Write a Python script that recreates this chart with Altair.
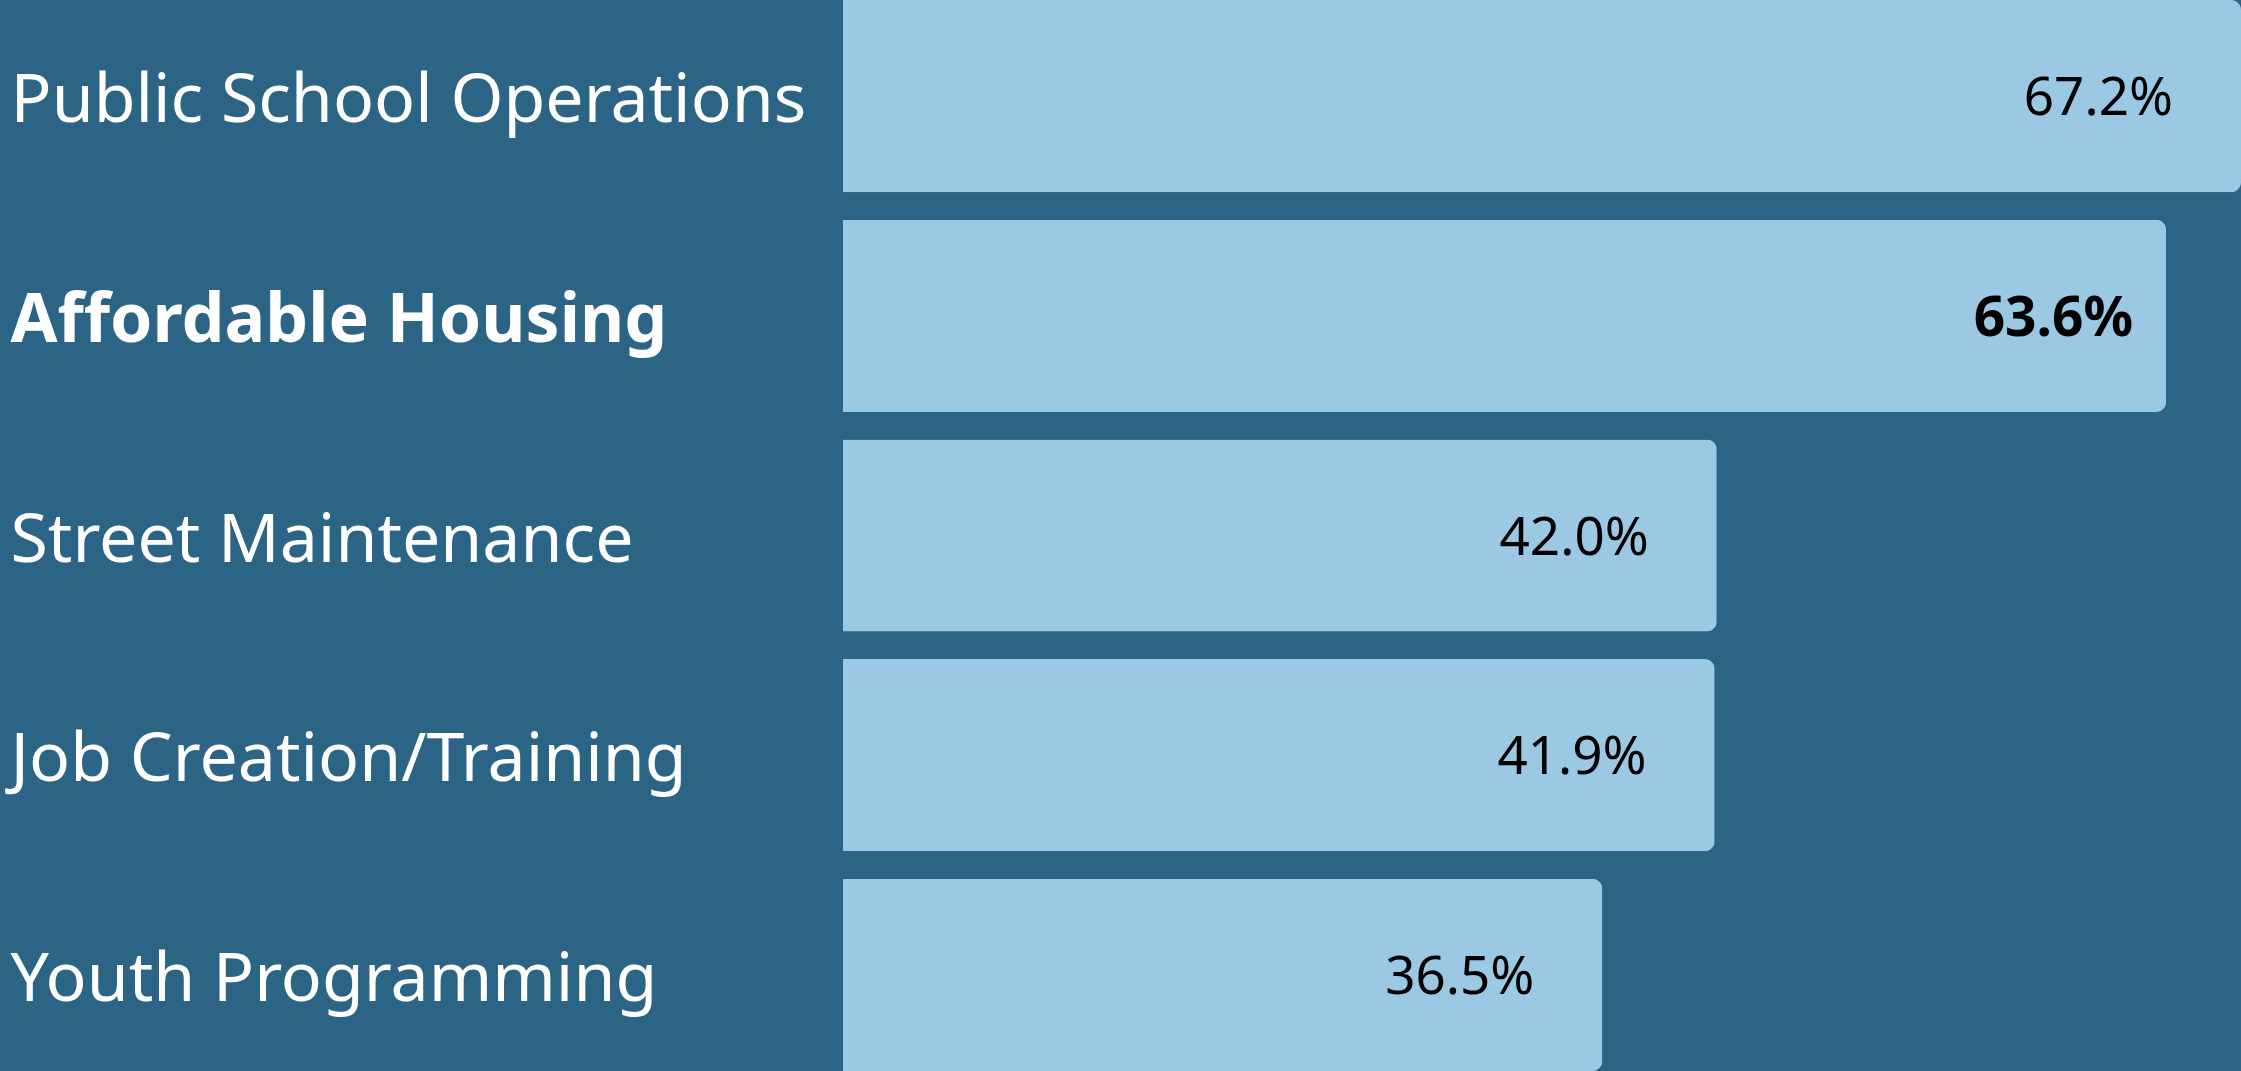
import altair as alt
import pandas as pd

categories = ["Public School Operations", "Affordable Housing", "Street Maintenance",
              "Job Creation/Training", "Youth Programming"]
values = [67.2, 63.6, 42.0, 41.9, 36.5]
highlight = [False, True, False, False, False]

df = pd.DataFrame({"category": categories, "value": values, "highlight": highlight})
df["label"] = df["value"].map(lambda v: f"{v:.1f}%")

BG = "#2B6485"
BAR = "#9BC9E3"
FONT = "Noto Sans"

y_enc = alt.Y("category:N", sort=categories, title=None,
              scale=alt.Scale(paddingInner=0.125, paddingOuter=0),
              axis=alt.Axis(labelAlign="left", labelPadding=833, ticks=False, tickSize=0,
                            domain=False, labelFontSize=68, labelFont=FONT,
                            labelColor="white", labelLimit=900, labelOffset=6,
                            labelFontWeight=alt.expr("datum.value == 'Affordable Housing' ? 'bold' : 'normal'")))
x_enc = alt.X("value:Q", title=None, scale=alt.Scale(domain=[0, 67.2], nice=False),
              axis=None)

bars = alt.Chart(df).mark_bar(color=BAR, cornerRadiusTopRight=10,
                              cornerRadiusBottomRight=10).encode(x=x_enc, y=y_enc)

txt_norm = alt.Chart(df).transform_filter("!datum.highlight").mark_text(
    align="right", dx=-68, dy=3, fontSize=53, font=FONT, color="black", baseline="middle"
).encode(x=x_enc, y=alt.Y("category:N", sort=categories), text="label:N")

txt_bold = alt.Chart(df).transform_filter("datum.highlight").mark_text(
    align="right", dx=-33, dy=3, fontSize=55, font=FONT, color="black", fontWeight="bold",
    baseline="middle"
).encode(x=x_enc, y=alt.Y("category:N", sort=categories), text="label:N")

chart = alt.layer(bars, txt_norm, txt_bold).properties(
    width=1398, height=1071,
    background=BG,
    padding={"left": 843, "top": 0, "right": 0, "bottom": 0},
    autosize=alt.AutoSizeParams(type="none"),
).configure_view(stroke=None)

chart.save("out.html", embed_options={"renderer": "svg", "actions": False})
